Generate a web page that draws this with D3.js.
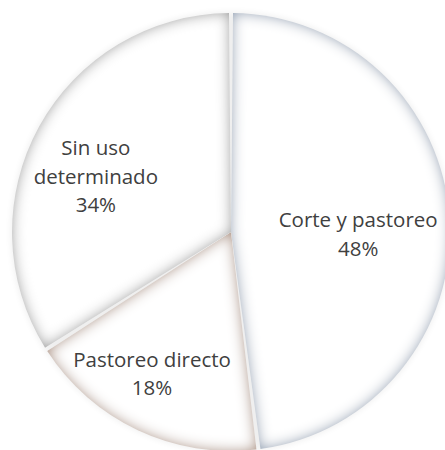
<!DOCTYPE html>
<html>
<head>
<meta charset="utf-8">
<script src="https://cdn.jsdelivr.net/npm/d3@7"></script>
<style>
  html, body { margin: 0; padding: 0; background: #ffffff; }
  svg { display: block; }
</style>
</head>
<body>
<svg id="chart" width="445" height="450"></svg>
<script>
// ---- data ----
const categories = ["Corte y pastoreo", "Pastoreo directo", "Sin uso determinado"];
const values = [48, 18, 34];
const labelLines = [["Corte y pastoreo"], ["Pastoreo directo"], ["Sin uso", "determinado"]];

// ---- layout / style ----
const W = 445, H = 450;
const cx = 231, cy = 232, R = 219;
const gap = 4;
const edgeColors = ["#7f93ab", "#a4826a", "#8f8f8f"];
const labelOffsets = [[-4, 11], [-23, 23], [-20, 8]];
const fontSize = 20.5, lineH = 28.5;

const svg = d3.select("#chart");
const defs = svg.append("defs");

edgeColors.forEach((c, i) => {
  const f = defs.append("filter").attr("id", "inner" + i)
    .attr("x", "-20%").attr("y", "-20%").attr("width", "140%").attr("height", "140%");
  f.append("feFlood").attr("flood-color", c).attr("flood-opacity", 1).attr("result", "flood");
  f.append("feComposite").attr("in", "flood").attr("in2", "SourceAlpha").attr("operator", "out").attr("result", "outside");
  f.append("feGaussianBlur").attr("in", "outside").attr("stdDeviation", 7).attr("result", "blur");
  f.append("feComposite").attr("in", "blur").attr("in2", "SourceAlpha").attr("operator", "in").attr("result", "shadow");
  const m = f.append("feMerge");
  m.append("feMergeNode").attr("in", "SourceGraphic");
  m.append("feMergeNode").attr("in", "shadow");
});

const outer = defs.append("filter").attr("id", "outerGlow")
  .attr("x", "-20%").attr("y", "-20%").attr("width", "140%").attr("height", "140%");
outer.append("feGaussianBlur").attr("in", "SourceAlpha").attr("stdDeviation", 3);

const data = categories.map((c, i) => ({ name: c, value: values[i], lines: labelLines[i], idx: i }));

const pie = d3.pie().value(d => d.value).sort(null);
const arcs = pie(data);

const arc = d3.arc().innerRadius(0).outerRadius(R).padRadius(R).padAngle(gap / R);
const labelArc = d3.arc().innerRadius(R * 0.6).outerRadius(R * 0.6);

const g = svg.append("g").attr("transform", `translate(${cx},${cy})`);

// faint outer shadow
g.append("circle").attr("r", R + 1).attr("fill", "#000").attr("opacity", 0.06)
  .attr("filter", "url(#outerGlow)");

g.selectAll("path.slice").data(arcs).enter().append("path")
  .attr("class", "slice")
  .attr("d", arc)
  .attr("fill", "#ffffff")
  .attr("filter", d => `url(#inner${d.data.idx})`);

const labels = g.selectAll("text.lbl").data(arcs).enter().append("text")
  .attr("class", "lbl")
  .attr("text-anchor", "middle")
  .attr("font-family", "'Open Sans', sans-serif")
  .attr("font-size", fontSize)
  .attr("fill", "#404040")
  .attr("transform", d => {
    const [x, y] = labelArc.centroid(d);
    const o = labelOffsets[d.data.idx];
    return `translate(${x + o[0]},${y + o[1]})`;
  });

labels.each(function(d) {
  const lines = d.data.lines.concat([d3.format(".0%")(d.data.value / d3.sum(values))]);
  const n = lines.length;
  const t = d3.select(this);
  lines.forEach((ln, i) => {
    t.append("tspan").attr("x", 0)
      .attr("y", (i - (n - 1) / 2) * lineH + 7)
      .text(ln);
  });
});
</script>
</body>
</html>
